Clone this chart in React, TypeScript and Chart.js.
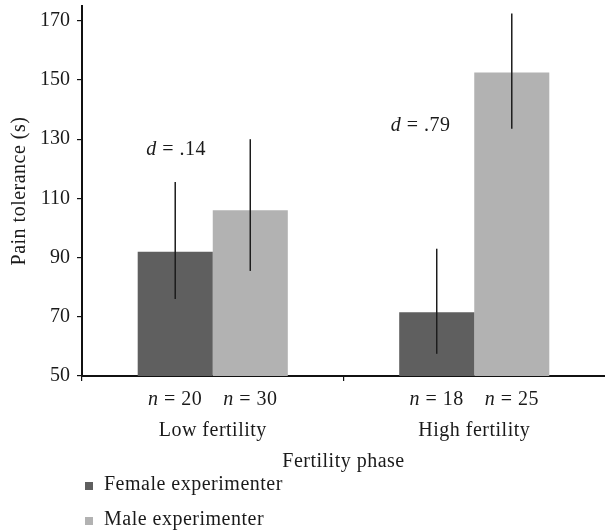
import React, { useEffect, useRef } from 'react';
import { Chart, registerables } from 'chart.js';

Chart.register(...registerables);

// ---- data ----
const categories = ['Low fertility', 'High fertility'];
const seriesNames = ['Female experimenter', 'Male experimenter'];
const femaleMeans = [92, 71.5];
const maleMeans = [106, 152.5];
const femaleErrLow = [76, 57.5];
const femaleErrHigh = [115.5, 93];
const maleErrLow = [85.5, 133.5];
const maleErrHigh = [130, 172.5];
const femaleN = [20, 18];
const maleN = [30, 25];
const effectSizes = ['.14', '.79'];
const effectLabelValue = [127, 135];
const effectLabelShift = [-0.14, -0.205];
const yTicks = [50, 70, 90, 110, 130, 150, 170];

const FONT = '"Liberation Serif", "Times New Roman", serif';
const TEXT = '#1a1a1a';
const FEMALE = '#5f5f5f';
const MALE = '#b2b2b2';
const SPACING = '0.5px';

type Part = { t: string; it?: boolean };

function drawMixed(ctx: CanvasRenderingContext2D, parts: Part[], cx: number, baseline: number, size: number) {
  const fontOf = (p: Part) => `${p.it ? 'italic ' : ''}${size}px ${FONT}`;
  (ctx as any).letterSpacing = SPACING;
  let total = 0;
  const widths = parts.map((p) => {
    ctx.font = fontOf(p);
    const w = ctx.measureText(p.t).width;
    total += w;
    return w;
  });
  let x = cx - total / 2;
  ctx.textAlign = 'left';
  ctx.textBaseline = 'alphabetic';
  parts.forEach((p, i) => {
    ctx.font = fontOf(p);
    ctx.fillText(p.t, x, baseline);
    x += widths[i];
  });
}

const extrasPlugin = {
  id: 'extras',
  afterDatasetsDraw(chart: any) {
    const ctx: CanvasRenderingContext2D = chart.ctx;
    const y = chart.scales.y;
    ctx.save();
    ctx.strokeStyle = '#1c1c1c';
    ctx.lineWidth = 1.5;
    chart.data.datasets.forEach((ds: any, di: number) => {
      const meta = chart.getDatasetMeta(di);
      meta.data.forEach((bar: any, i: number) => {
        ctx.beginPath();
        ctx.moveTo(bar.x, y.getPixelForValue(ds.errHigh[i]));
        ctx.lineTo(bar.x, y.getPixelForValue(ds.errLow[i]));
        ctx.stroke();
      });
    });
    ctx.restore();
  },
  afterDraw(chart: any) {
    const ctx: CanvasRenderingContext2D = chart.ctx;
    const x = chart.scales.x;
    const y = chart.scales.y;
    const area = chart.chartArea;
    ctx.save();
    ctx.fillStyle = TEXT;

    // effect size labels
    categories.forEach((_, i) => {
      const px = x.getPixelForValue(i + effectLabelShift[i]);
      const py = y.getPixelForValue(effectLabelValue[i]) + 7;
      drawMixed(ctx, [{ t: 'd', it: true }, { t: ' = ' + effectSizes[i] }], px, py, 20);
    });

    // n labels under bars, category labels
    const fMeta = chart.getDatasetMeta(0);
    const mMeta = chart.getDatasetMeta(1);
    categories.forEach((c, i) => {
      drawMixed(ctx, [{ t: 'n', it: true }, { t: ' = ' + femaleN[i] }], fMeta.data[i].x, area.bottom + 29, 20);
      drawMixed(ctx, [{ t: 'n', it: true }, { t: ' = ' + maleN[i] }], mMeta.data[i].x, area.bottom + 29, 20);
      drawMixed(ctx, [{ t: c }], x.getPixelForValue(i), area.bottom + 60, 20);
    });

    // x title
    drawMixed(ctx, [{ t: 'Fertility phase' }], (area.left + area.right) / 2, area.bottom + 91, 20);

    // y title
    ctx.save();
    ctx.translate(24.5, (area.top + area.bottom) / 2);
    ctx.rotate(-Math.PI / 2);
    drawMixed(ctx, [{ t: 'Pain tolerance (s)' }], 0, 0, 20);
    ctx.restore();

    // legend
    const colors = [FEMALE, MALE];
    seriesNames.forEach((name, i) => {
      const base = area.bottom + 114 + i * 35;
      ctx.fillStyle = colors[i];
      ctx.fillRect(85, base - 8, 8, 8);
      ctx.fillStyle = TEXT;
      ctx.font = `20px ${FONT}`;
      (ctx as any).letterSpacing = SPACING;
      ctx.textAlign = 'left';
      ctx.textBaseline = 'alphabetic';
      ctx.fillText(name, 104, base);
    });

    ctx.restore();
  },
};

export default function App() {
  const ref = useRef<HTMLCanvasElement | null>(null);

  useEffect(() => {
    if (!ref.current) return;
    const chart = new Chart(ref.current, {
      type: 'bar',
      data: {
        labels: categories,
        datasets: [
          {
            label: seriesNames[0],
            data: femaleMeans,
            backgroundColor: FEMALE,
            errLow: femaleErrLow,
            errHigh: femaleErrHigh,
          } as any,
          {
            label: seriesNames[1],
            data: maleMeans,
            backgroundColor: MALE,
            errLow: maleErrLow,
            errHigh: maleErrHigh,
          } as any,
        ],
      },
      options: {
        animation: false,
        responsive: true,
        maintainAspectRatio: false,
        devicePixelRatio: 1,
        layout: { padding: { top: 6, right: 0, bottom: 0, left: 0 } },
        datasets: { bar: { categoryPercentage: 0.574, barPercentage: 1.0, borderWidth: 0 } },
        plugins: {
          legend: { display: false },
          tooltip: { enabled: false },
          title: { display: false },
        },
        scales: {
          x: {
            offset: true,
            ticks: { display: false },
            grid: {
              display: true,
              offset: true,
              drawOnChartArea: false,
              drawTicks: true,
              tickLength: 5,
              color: (c: any) => (c.type === 'tick' ? '#111' : 'rgba(0,0,0,0)'),
              lineWidth: 1.2,
            },
            border: { display: true, color: '#111', width: 2 },
            afterFit: (s: any) => {
              s.height = 155;
              s.paddingLeft = 0;
              s.paddingRight = 0;
            },
          },
          y: {
            min: 50,
            max: 175,
            afterBuildTicks: (s: any) => {
              s.ticks = yTicks.map((v) => ({ value: v }));
            },
            ticks: {
              includeBounds: false,
              padding: 7,
              color: TEXT,
              font: { family: FONT, size: 20 },
            },
            grid: {
              display: true,
              drawOnChartArea: false,
              drawTicks: true,
              tickLength: 5,
              color: '#111',
              lineWidth: 1.2,
            },
            border: { display: true, color: '#111', width: 2 },
            afterFit: (s: any) => {
              s.width = 82;
              s.paddingTop = 0;
              s.paddingBottom = 0;
            },
          },
        },
      },
      plugins: [extrasPlugin],
    });
    return () => chart.destroy();
  }, []);

  return (
    <div style={{ position: 'fixed', left: 0, top: 0, width: 605, height: 531, background: '#fff' }}>
      <canvas ref={ref} />
    </div>
  );
}
